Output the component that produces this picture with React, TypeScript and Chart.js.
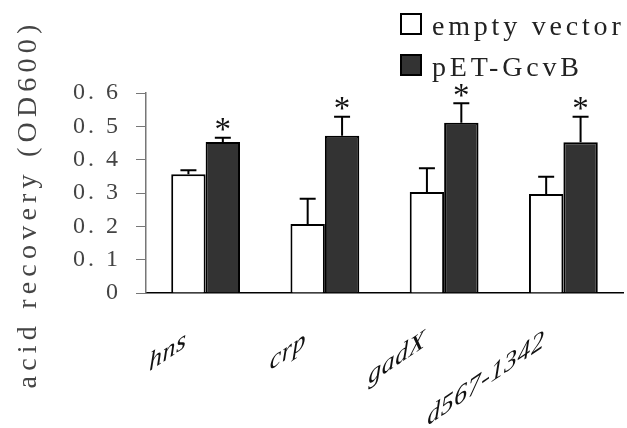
import React, { useEffect, useRef } from 'react';
import { Chart, registerables } from 'chart.js';

Chart.register(...registerables);

const categories = ['hns', 'crp', 'gadX', 'd567-1342'];
const seriesNames = ['empty vector', 'pET-GcvB'];
const emptyVector = [0.356, 0.207, 0.303, 0.297];
const emptyVectorErr = [0.012, 0.076, 0.071, 0.052];
const pETGcvB = [0.453, 0.472, 0.511, 0.452];
const pETGcvBErr = [0.013, 0.057, 0.058, 0.077];
const pETGcvBStars = [true, true, true, true];
const yMin = 0;
const yMax = 0.6;
const yStep = 0.1;
const yTitle = 'acid recovery (OD600)';

const DARK = '#333333';

const extrasPlugin = {
  id: 'extras',
  beforeDraw(chart: any) {
    chart.ctx.letterSpacing = '3px';
  },
  afterDatasetsDraw(chart: any) {
    const ctx = chart.ctx;
    const y = chart.scales.y;
    chart.data.datasets.forEach((ds: any, di: number) => {
      const meta = chart.getDatasetMeta(di);
      meta.data.forEach((bar: any, i: number) => {
        const v = ds.data[i];
        const err = ds.errors[i];
        const base = y.getPixelForValue(v);
        const top = y.getPixelForValue(v + err);
        ctx.save();
        ctx.strokeStyle = '#000';
        ctx.lineWidth = 2;
        ctx.beginPath();
        ctx.moveTo(bar.x, base);
        ctx.lineTo(bar.x, top);
        ctx.moveTo(bar.x - 8, top);
        ctx.lineTo(bar.x + 8, top);
        ctx.stroke();
        if (ds.stars && ds.stars[i]) {
          ctx.letterSpacing = '0px';
          ctx.font = '33px "Liberation Serif"';
          ctx.fillStyle = '#111';
          ctx.textAlign = 'center';
          ctx.textBaseline = 'alphabetic';
          const m = ctx.measureText('*');
          const cy = top - 13;
          const baseline = cy + (m.actualBoundingBoxAscent - m.actualBoundingBoxDescent) / 2;
          ctx.fillText('*', bar.x, baseline);
        }
        ctx.restore();
      });
    });
  },
  afterDraw(chart: any) {
    const ctx = chart.ctx;
    const xScale = chart.scales.x;
    // category labels (slanted italic)
    categories.forEach((label, i) => {
      const px = xScale.getPixelForValue(i);
      ctx.save();
      ctx.translate(px - 19, 346);
      ctx.transform(1, -0.68, 0, 1, 0, 0);
      ctx.font = 'italic 26px "Liberation Serif"';
      ctx.letterSpacing = '0.5px';
      ctx.fillStyle = '#111';
      ctx.textAlign = 'right';
      ctx.textBaseline = 'alphabetic';
      ctx.fillText(label, 0, 0);
      ctx.restore();
    });

    ctx.save();
    // legend
    const fills = ['#ffffff', DARK];
    const rows = [14, 55];
    seriesNames.forEach((name, i) => {
      ctx.fillStyle = fills[i];
      ctx.strokeStyle = '#000';
      ctx.lineWidth = 2;
      ctx.fillRect(401, rows[i], 20, 20);
      ctx.strokeRect(401, rows[i], 20, 20);
      ctx.fillStyle = '#222';
      ctx.font = '28px "Liberation Serif"';
      ctx.letterSpacing = '3.8px';
      ctx.textAlign = 'left';
      ctx.textBaseline = 'alphabetic';
      ctx.fillText(name, 432, rows[i] + 21);
    });
    // y title
    ctx.translate(29, 207);
    ctx.rotate(-Math.PI / 2);
    ctx.font = '28px "Liberation Serif"';
    ctx.letterSpacing = '5.2px';
    ctx.fillStyle = '#444';
    ctx.textAlign = 'center';
    ctx.textBaseline = 'middle';
    ctx.fillText(yTitle, 3, 0);
    ctx.restore();
  },
};

export default function App() {
  const ref = useRef<HTMLCanvasElement>(null);
  useEffect(() => {
    if (!ref.current) return;
    const chart = new Chart(ref.current, {
      type: 'bar',
      data: {
        labels: categories,
        datasets: [
          {
            label: seriesNames[0],
            data: emptyVector,
            errors: emptyVectorErr,
            backgroundColor: '#ffffff',
            borderColor: '#000000',
            borderWidth: 2,
            categoryPercentage: 0.577,
            barPercentage: 1,
          } as any,
          {
            label: seriesNames[1],
            data: pETGcvB,
            errors: pETGcvBErr,
            stars: pETGcvBStars,
            backgroundColor: DARK,
            borderColor: '#000000',
            borderWidth: 2,
            categoryPercentage: 0.577,
            barPercentage: 1,
          } as any,
        ],
      },
      options: {
        animation: false,
        responsive: false,
        devicePixelRatio: 1,
        layout: { padding: { top: 93, right: 4, bottom: 0, left: 0 } },
        plugins: {
          legend: { display: false },
          tooltip: { enabled: false },
        },
        scales: {
          x: {
            grid: { display: false },
            border: { display: true, color: '#000', width: 1.5 },
            ticks: { display: false },
            afterFit: (scale: any) => {
              scale.height = 135;
            },
          },
          y: {
            min: yMin,
            max: yMax,
            grid: {
              drawOnChartArea: false,
              drawTicks: true,
              tickLength: 10,
              color: '#777',
              lineWidth: 1,
            },
            border: { display: true, color: '#777', width: 1.5 },
            ticks: {
              stepSize: yStep,
              padding: 15,
              color: '#444',
              font: { family: '"Liberation Serif"', size: 24 },
              callback: (v: any) => (Number(v) === 0 ? '0' : Number(v).toFixed(1).replace('.', '. ')),
            },
            afterFit: (scale: any) => {
              scale.width = 146;
            },
          },
        },
      } as any,
      plugins: [extrasPlugin],
    });
    return () => chart.destroy();
  }, []);
  return (
    <div style={{ position: 'absolute', left: 0, top: 0, width: 627, height: 428, background: '#fff' }}>
      <canvas ref={ref} width={627} height={428} />
    </div>
  );
}
